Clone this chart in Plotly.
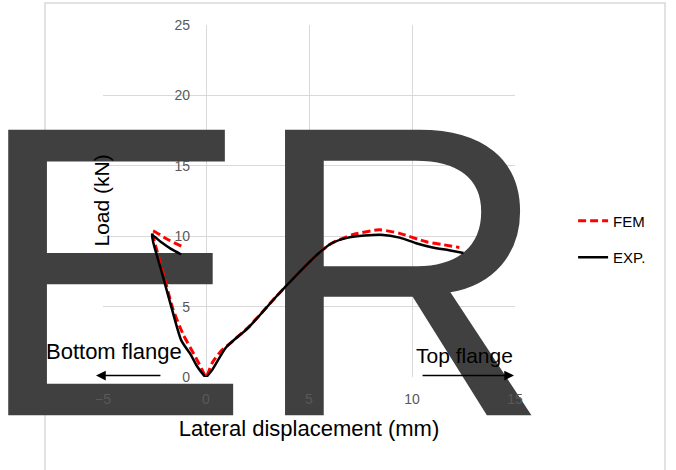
import plotly.graph_objects as go

# ---- data ----
exp_x = [-1.2, -1.7, -2.2, -2.62, -2.55, -2.14, -1.65, -1.2, -0.73, -0.45, -0.15, 0.0,
         0.3, 0.97, 2.09, 3.4, 4.5, 5.4, 6.1, 6.9, 7.7, 8.5, 9.4, 10.2, 11.0, 11.8, 12.5]
exp_y = [8.7, 9.1, 9.6, 10.1, 9.5, 7.4, 4.8, 2.6, 1.56, 0.8, 0.2, 0.0,
         0.5, 2.1, 3.55, 5.7, 7.4, 8.7, 9.5, 9.9, 10.05, 10.1, 9.9, 9.5, 9.2, 9.0, 8.8]

fem_x = [-1.2, -1.9, -2.62, -2.5, -2.1, -1.6, -1.1, -0.5, -0.15, 0.0,
         0.3, 0.7, 1.1, 2.1, 3.4, 4.5, 5.4, 6.1, 7.1, 8.4, 9.4, 10.7, 11.5, 12.3]
fem_y = [9.3, 9.8, 10.4, 9.6, 7.5, 4.8, 3.0, 1.4, 0.4, 0.0,
         1.0, 1.8, 2.3, 3.6, 5.7, 7.4, 8.7, 9.5, 10.1, 10.45, 10.2, 9.6, 9.4, 9.2]

x_ticks = [-5, 0, 5, 10, 15]
y_ticks = [0, 5, 10, 15, 20, 25]

FONT = "Liberation Sans"
GRID = "#d9d9d9"
TICKC = "#595959"

fig = go.Figure()

# watermark text beneath the data
fig.add_trace(go.Scatter(
    x=[2.74], y=[4.65], mode="text", text=["ER"], textposition="middle center",
    textfont=dict(family=FONT, size=415, color="#404040"),
    cliponaxis=False, showlegend=False, hoverinfo="skip"))

fig.add_trace(go.Scatter(
    x=fem_x, y=fem_y, mode="lines", name="FEM", legendgroup="a",
    line=dict(color="#ff0000", width=3, dash="8px,4px", shape="spline", smoothing=0.6),
    cliponaxis=False))
fig.add_trace(go.Scatter(
    x=exp_x, y=exp_y, mode="lines", name="EXP.", legendgroup="b",
    line=dict(color="#000000", width=2.5, shape="spline", smoothing=0.6),
    cliponaxis=False))

# arrows
fig.add_annotation(x=-5.34, y=0.1, ax=-2.14, ay=0.1, xref="x", yref="y", axref="x", ayref="y",
                   text="", showarrow=True, arrowhead=2, arrowsize=1.3, arrowwidth=1.5,
                   arrowcolor="#000000")
fig.add_annotation(x=14.95, y=0.1, ax=10.44, ay=0.1, xref="x", yref="y", axref="x", ayref="y",
                   text="", showarrow=True, arrowhead=2, arrowsize=1.3, arrowwidth=1.5,
                   arrowcolor="#000000")
fig.add_annotation(x=-4.47, y=1.78, xref="x", yref="y", text="Bottom flange", showarrow=False,
                   font=dict(family=FONT, size=22, color="#000000"))
fig.add_annotation(x=12.57, y=1.56, xref="x", yref="y", text="Top flange", showarrow=False,
                   font=dict(family=FONT, size=21, color="#000000"))

# y title
fig.add_annotation(x=(87 - 103) / 412, y=0.5, xref="paper", yref="paper", text="Load (kN)",
                   textangle=-90, showarrow=False,
                   font=dict(family=FONT, size=21, color="#000000"))

# outer chart border
fig.add_shape(type="rect", xref="paper", yref="paper",
              x0=(45 - 103) / 412, x1=(665 - 103) / 412,
              y0=(377 - 490) / 352, y1=(377 - 3) / 352,
              line=dict(color=GRID, width=1.5), layer="below")

fig.update_layout(
    width=676, height=470,
    margin=dict(l=103, r=161, t=25, b=93),
    paper_bgcolor="white", plot_bgcolor="white",
    font=dict(family=FONT),
    xaxis=dict(range=[-5, 15], tickvals=x_ticks, showgrid=True, gridcolor=GRID, gridwidth=1,
               zeroline=False, showline=False, ticks="",
               tickfont=dict(family=FONT, size=14, color=TICKC), ticklabelstandoff=12,
               title=dict(text="Lateral displacement (mm)",
                          font=dict(family=FONT, size=22, color="#000000"), standoff=14)),
    yaxis=dict(range=[0, 25], tickvals=y_ticks, showgrid=True, gridcolor=GRID, gridwidth=1,
               zeroline=False, showline=False, ticks="", anchor="free", position=0.25,
               tickfont=dict(family=FONT, size=14, color=TICKC), ticklabelstandoff=16),
    legend=dict(x=1.141, y=0.392, xanchor="left", yanchor="middle", traceorder="grouped",
                tracegroupgap=14, bgcolor="rgba(0,0,0,0)",
                font=dict(family=FONT, size=15, color="#000000")),
    showlegend=True,
)

fig.write_html("out.html")
